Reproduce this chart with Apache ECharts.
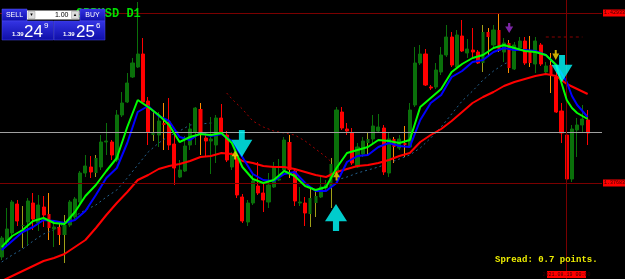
<!DOCTYPE html>
<html>
<head>
<meta charset="utf-8">
<title>GBPUSD D1</title>
<script src="https://cdn.jsdelivr.net/npm/echarts/dist/echarts.min.js"></script>
<style>
  html, body { margin: 0; padding: 0; background: #000; }
  #chart { width: 625px; height: 279px; }
</style>
</head>
<body>
<div id="chart"></div>
<script>
// daily candles: [open, close, low, high]
const ohlc = [
  [1.3569,1.3626,1.3560,1.3632],[1.3614,1.3653,1.3605,1.3716],[1.3641,1.3734,1.3635,1.3740],[1.3728,1.3677,1.3662,1.3740],
  [1.3662,1.3665,1.3596,1.3722],[1.3674,1.3737,1.3605,1.3746],[1.3731,1.3683,1.3650,1.3761],[1.3671,1.3725,1.3647,1.3755],
  [1.3719,1.3695,1.3659,1.3752],[1.3698,1.3656,1.3620,1.3761],[1.3653,1.3659,1.3599,1.3680],[1.3659,1.3635,1.3605,1.3674],
  [1.3635,1.3665,1.3551,1.3695],[1.3665,1.3734,1.3659,1.3740],[1.3689,1.3743,1.3683,1.3749],[1.3734,1.3821,1.3728,1.3827],
  [1.3821,1.3842,1.3809,1.3875],[1.3839,1.3824,1.3806,1.3872],[1.3821,1.3866,1.3809,1.3875],[1.3839,1.3914,1.3830,1.3935],
  [1.3914,1.3917,1.3875,1.3971],[1.3914,1.3875,1.3860,1.3920],[1.3860,1.3995,1.3854,1.4010],[1.3995,1.4031,1.3989,1.4064],
  [1.4034,1.4091,1.4031,1.4121],[1.4109,1.4151,1.4106,1.4166],[1.4139,1.4178,1.4136,1.4334],[1.4178,1.4034,1.4031,1.4226],
  [1.4037,1.3944,1.3905,1.4049],[1.3935,1.3944,1.3917,1.4007],[1.3935,1.3977,1.3899,1.4004],[1.3971,1.3965,1.3890,1.4031],
  [1.3974,1.3905,1.3890,1.4046],[1.3908,1.3836,1.3785,1.3935],[1.3809,1.3830,1.3806,1.3860],[1.3827,1.3902,1.3824,1.3932],
  [1.3905,1.3953,1.3890,1.3971],[1.3944,1.4016,1.3905,1.4019],[1.4013,1.3938,1.3875,1.4031],[1.3926,1.3917,1.3869,1.3944],
  [1.3917,1.3923,1.3818,1.3989],[1.3905,1.3986,1.3851,1.3995],[1.3986,1.3944,1.3935,1.4028],[1.3935,1.3860,1.3854,1.3947],
  [1.3839,1.3875,1.3830,1.3884],[1.3872,1.3755,1.3746,1.3884],[1.3749,1.3677,1.3671,1.3758],[1.3674,1.3731,1.3662,1.3740],
  [1.3731,1.3797,1.3725,1.3824],[1.3782,1.3761,1.3755,1.3854],[1.3761,1.3740,1.3704,1.3791],[1.3734,1.3785,1.3716,1.3821],
  [1.3779,1.3839,1.3776,1.3854],[1.3800,1.3803,1.3797,1.3863],[1.3830,1.3920,1.3824,1.3929],[1.3914,1.3830,1.3806,1.3935],
  [1.3827,1.3737,1.3722,1.3830],[1.3731,1.3734,1.3722,1.3779],[1.3731,1.3701,1.3662,1.3749],[1.3698,1.3746,1.3659,1.3779],
  [1.3731,1.3752,1.3689,1.3773],[1.3749,1.3779,1.3746,1.3809],[1.3776,1.3785,1.3764,1.3800],[1.3779,1.3848,1.3716,1.3866],
  [1.3821,1.4010,1.3815,1.4019],[1.4004,1.3956,1.3950,1.4019],[1.3953,1.3947,1.3935,1.3971],[1.3941,1.3851,1.3845,1.3956],
  [1.3839,1.3899,1.3836,1.3911],[1.3878,1.3917,1.3869,1.3929],[1.3911,1.3923,1.3875,1.3941],[1.3923,1.3962,1.3911,1.3995],
  [1.3947,1.3959,1.3944,1.3998],[1.3956,1.3824,1.3815,1.3965],[1.3821,1.3923,1.3809,1.3941],[1.3923,1.3899,1.3851,1.3929],
  [1.3896,1.3923,1.3890,1.3935],[1.3911,1.3905,1.3869,1.3962],[1.3899,1.4010,1.3896,1.4031],[1.4025,1.4151,1.4019,1.4199],
  [1.4151,1.4178,1.4145,1.4205],[1.4178,1.4085,1.4082,1.4193],[1.4079,1.4076,1.4070,1.4085],[1.4079,1.4130,1.4073,1.4151],
  [1.4124,1.4175,1.4115,1.4199],[1.4175,1.4229,1.4169,1.4265],[1.4229,1.4145,1.4139,1.4244],[1.4139,1.4235,1.4136,1.4250],
  [1.4232,1.4187,1.4184,1.4280],[1.4181,1.4193,1.4166,1.4223],[1.4190,1.4184,1.4166,1.4256],[1.4184,1.4151,1.4148,1.4190],
  [1.4151,1.4244,1.4124,1.4265],[1.4244,1.4229,1.4175,1.4256],[1.4205,1.4250,1.4199,1.4265],[1.4250,1.4187,1.4184,1.4298],
  [1.4184,1.4211,1.4154,1.4226],[1.4211,1.4136,1.4121,1.4220],[1.4133,1.4205,1.4130,1.4214],[1.4196,1.4217,1.4193,1.4229],
  [1.4217,1.4151,1.4145,1.4229],[1.4190,1.4151,1.4139,1.4232],[1.4148,1.4217,1.4121,1.4229],[1.4205,1.4148,1.4142,1.4211],
  [1.4124,1.4142,1.4115,1.4154],[1.4145,1.4115,1.4061,1.4181],[1.4109,1.4004,1.4001,1.4124],[1.4007,1.3941,1.3911,1.4031],
  [1.3935,1.3803,1.3797,1.3944],[1.3803,1.3953,1.3794,1.3965],[1.3950,1.3965,1.3869,1.3986],[1.3965,1.3983,1.3944,1.4025],
  [1.3980,1.3941,1.3905,1.4010]
];
// bars whose shadow is drawn in the bar-up / bar-down colour
const tintedWicks = [4, 9, 11, 12, 18, 29, 31, 38, 55, 59, 60, 63, 70, 75, 77, 92, 93, 95, 97, 101, 105];

// moving averages: [bar index, price]
const maFast = [[0,1.3599],[2,1.3632],[4,1.3650],[6,1.3677],[8,1.3686],[10,1.3671],[12,1.3668],[14,1.3704],[16,1.3752],
  [18,1.3785],[20,1.3827],[22,1.3866],[24,1.3959],[26,1.4040],[28,1.4019],[30,1.3995],[32,1.3965],[34,1.3914],[36,1.3929],
  [38,1.3938],[40,1.3935],[42,1.3941],[44,1.3911],[46,1.3839],[48,1.3803],[50,1.3791],[52,1.3800],[54,1.3827],[56,1.3812],
  [58,1.3782],[60,1.3770],[62,1.3779],[64,1.3836],[66,1.3881],[68,1.3890],[70,1.3899],[72,1.3920],[74,1.3917],[76,1.3911],
  [78,1.3920],[80,1.4019],[82,1.4046],[84,1.4073],[86,1.4124],[88,1.4148],[90,1.4166],[92,1.4175],[94,1.4196],[96,1.4205],
  [98,1.4196],[100,1.4187],[102,1.4184],[104,1.4175],[106,1.4145],[107,1.4091],[108,1.4040],[109,1.4016],[110,1.4001],[112,1.3983]];
const maMid = [[0,1.3590],[2,1.3617],[4,1.3644],[6,1.3659],[8,1.3680],[10,1.3677],[12,1.3671],[14,1.3680],[16,1.3707],
  [18,1.3755],[20,1.3806],[22,1.3836],[24,1.3911],[26,1.4004],[28,1.4022],[30,1.3992],[32,1.3977],[34,1.3929],[36,1.3920],
  [38,1.3941],[40,1.3932],[42,1.3938],[44,1.3917],[46,1.3869],[48,1.3818],[50,1.3800],[52,1.3797],[54,1.3818],[56,1.3824],
  [58,1.3791],[60,1.3767],[62,1.3767],[64,1.3791],[66,1.3854],[68,1.3872],[70,1.3875],[72,1.3899],[74,1.3911],[76,1.3902],
  [78,1.3899],[80,1.3980],[82,1.4031],[84,1.4055],[86,1.4109],[88,1.4127],[90,1.4154],[92,1.4160],[94,1.4184],[96,1.4196],
  [98,1.4190],[100,1.4190],[102,1.4187],[104,1.4175],[106,1.4145],[108,1.4094],[109,1.4052],[110,1.4025],[112,1.3989]];
const maSlow = [[0,1.3497],[2,1.3512],[4,1.3527],[6,1.3542],[8,1.3557],[10,1.3566],[12,1.3578],[14,1.3599],[16,1.3620],
  [18,1.3656],[20,1.3695],[22,1.3731],[24,1.3764],[26,1.3800],[28,1.3815],[30,1.3833],[32,1.3842],[34,1.3848],[36,1.3857],
  [38,1.3869],[40,1.3872],[42,1.3881],[44,1.3878],[46,1.3857],[48,1.3851],[50,1.3842],[52,1.3839],[54,1.3839],[56,1.3833],
  [58,1.3824],[60,1.3815],[62,1.3809],[64,1.3824],[66,1.3833],[68,1.3842],[70,1.3845],[72,1.3851],[74,1.3860],[76,1.3872],
  [78,1.3881],[80,1.3914],[82,1.3935],[84,1.3953],[86,1.3977],[88,1.4004],[90,1.4031],[92,1.4049],[94,1.4064],[96,1.4082],
  [98,1.4094],[100,1.4103],[102,1.4112],[104,1.4118],[106,1.4112],[108,1.4088],[110,1.4073],[112,1.4058]];
// long dotted average, drawn in two pieces
const maDotA = [[0,1.3554],[2,1.3575],[4,1.3593],[6,1.3617],[8,1.3638],[10,1.3650],[12,1.3671],[14,1.3692],[16,1.3710],
  [18,1.3725],[20,1.3749],[22,1.3770],[24,1.3806],[26,1.3845],[28,1.3884],[30,1.3911],[32,1.3932],[34,1.3947],[36,1.3965],
  [38,1.3968],[40,1.3971],[41,1.3971]];
const maDotB = [[64,1.3800],[66,1.3809],[68,1.3821],[70,1.3830],[72,1.3839],[74,1.3851],[76,1.3863],[78,1.3875],[80,1.3896],
  [82,1.3926],[84,1.3959],[86,1.3998],[88,1.4037],[90,1.4067],[92,1.4100],[94,1.4127],[96,1.4148],[97,1.4154]];
// dark red dotted trail
const trailRed = [[43,1.4061],[44,1.4043],[46,1.4013],[48,1.3977],[50,1.3959],[52,1.3947],[54,1.3941],[56,1.3935],
  [58,1.3917],[60,1.3893],[62,1.3869],[63,1.3854]];
const pendingLevel = [[104,1.4229],[111,1.4229]];

// signal arrows: [bar index, price]
const bigDown = [[45.9,1.3869],[107.1,1.4094]];
const bigUp = [[63.9,1.3728]];
const smallUp = [[44.6,1.3875],[64,1.3812]];
const smallDown = [[105.9,1.4175]];
const purpleDown = [[97,1.4256]];

// horizontal / vertical lines
const levelGray = 1.3944;
const levelTop = 1.4301;
const levelLow = 1.3791;
const priceTags = ['1.42933', '1.37683'];
const crossBar = 108;
const crossTime = '2021.08.19 00:00';

const titleText = 'GBPUSD D1';
const spreadText = 'Spread: 0.7 points.';

const chart = echarts.init(document.getElementById('chart'));

// tinted bars: body without outline, the shadow comes from the tint series below
const candleData = ohlc.map((v, i) => {
  const item = { value: [i, v[0], v[1], v[2], v[3]] };
  if (tintedWicks.includes(i)) {
    item.itemStyle = { borderColor: 'rgba(0,0,0,0)', borderColor0: 'rgba(0,0,0,0)' };
  }
  return item;
});
const tintData = tintedWicks.map(i => [i, ohlc[i][0], ohlc[i][1], ohlc[i][2], ohlc[i][3]]);

const arrowDownPath = 'path://M3.6,0 L6.4,0 L6.4,3.6 L10,3.6 L5,10 L0,3.6 L3.6,3.6 Z';
const arrowUpPath = 'path://M5,0 L10,6.4 L6.4,6.4 L6.4,10 L3.6,10 L3.6,6.4 L0,6.4 Z';
const blueFill = () => new echarts.graphic.LinearGradient(0, 0, 0, 1, [
  { offset: 0, color: '#3434e4' }, { offset: 1, color: '#0e0ea8' }
]);

function lineSeries(data, color, width, type, z) {
  return {
    type: 'line', data: data, symbol: 'none', silent: true, z: z,
    lineStyle: { color: color, width: width, type: type }
  };
}

function tagLine(value, text) {
  return {
    yAxis: value,
    lineStyle: { color: '#7a0000', width: 1, type: 'solid' },
    label: {
      show: true, position: 'end', distance: 1, formatter: text,
      backgroundColor: '#ff0000', color: '#3a0000', fontSize: 5,
      fontFamily: 'Liberation Mono', padding: [1, 1]
    }
  };
}

chart.setOption({
  backgroundColor: '#000000',
  animation: false,
  grid: { left: 0, right: 23, top: 0, bottom: 0 },
  xAxis: { type: 'value', min: -0.325, max: 114.74, show: false, splitLine: { show: false } },
  yAxis: { type: 'value', min: 1.3503, max: 1.4340, show: false, splitLine: { show: false } },
  series: [
    {
      type: 'candlestick',
      data: tintData,
      encode: { x: 0, y: [1, 2, 3, 4] },
      barWidth: 1,
      silent: true,
      z: 1,
      itemStyle: { color: '#a0a018', color0: '#ff8c00', borderColor: '#a0a018', borderColor0: '#ff8c00', borderWidth: 1 }
    },
    {
      type: 'candlestick',
      data: candleData,
      encode: { x: 0, y: [1, 2, 3, 4] },
      barWidth: 3.6,
      silent: true,
      z: 2,
      itemStyle: {
        color: '#0a700a', color0: '#ff0000',
        borderColor: '#0a700a', borderColor0: '#ff0000', borderWidth: 1
      },
      markLine: {
        silent: true,
        precision: 5,
        symbol: ['none', 'none'],
        data: [
          { yAxis: levelGray, lineStyle: { color: '#a0a0a0', width: 1, type: 'solid' }, label: { show: false } },
          tagLine(levelTop, priceTags[0]),
          tagLine(levelLow, priceTags[1]),
          { xAxis: crossBar, lineStyle: { color: '#7a0000', width: 1, type: 'solid' }, label: { show: false } }
        ]
      }
    },
    lineSeries(pendingLevel, '#8a0000', 1, [3, 3], 2),
    lineSeries(trailRed, '#a00000', 1, [2, 3], 2),
    lineSeries(maDotA, '#24618f', 1, [2, 3], 2),
    lineSeries(maDotB, '#24618f', 1, [2, 3], 2),
    lineSeries(maSlow, '#ff0000', 2, 'solid', 3),
    lineSeries(maMid, '#0000ff', 2, 'solid', 4),
    lineSeries(maFast, '#00ff00', 2, 'solid', 5),
    { type: 'scatter', data: smallUp, symbol: arrowUpPath, symbolSize: [7, 9], itemStyle: { color: '#ffd800' }, z: 8, silent: true },
    { type: 'scatter', data: smallDown, symbol: arrowDownPath, symbolSize: [7, 10], itemStyle: { color: '#ffd800' }, z: 8, silent: true },
    { type: 'scatter', data: purpleDown, symbol: arrowDownPath, symbolSize: [8, 10], itemStyle: { color: '#9b30d0' }, z: 8, silent: true },
    { type: 'scatter', data: bigDown, symbol: arrowDownPath, symbolSize: [21, 27], symbolOffset: [0, '-50%'], itemStyle: { color: '#00ffff' }, z: 9, silent: true },
    { type: 'scatter', data: bigUp, symbol: arrowUpPath, symbolSize: [22, 27], symbolOffset: [0, '50%'], itemStyle: { color: '#00ffff' }, z: 9, silent: true }
  ],
  graphic: [
    { type: 'text', x: 76, y: 14, z: 10, style: { text: titleText, fill: '#00e000', font: 'bold 12px "Liberation Mono"', verticalAlign: 'middle' } },
    { type: 'text', x: 495, y: 260, z: 10, style: { text: spreadText, fill: '#eeee00', font: 'bold 9px "Liberation Mono"', verticalAlign: 'middle' } },
    { type: 'rect', z: 10, shape: { x: 547, y: 271, width: 39, height: 7 }, style: { fill: '#ff0000' } },
    { type: 'text', x: 566.5, y: 274.5, z: 11, style: { text: crossTime, fill: '#3a0000', font: '5px "Liberation Mono"', align: 'center', verticalAlign: 'middle' } },
    // one-click trade panel
    { type: 'rect', z: 20, shape: { x: 2, y: 9, width: 25, height: 12 }, style: { fill: blueFill(), stroke: '#5050f0', lineWidth: 0.5 } },
    { type: 'text', x: 14.5, y: 15.5, z: 21, style: { text: 'SELL', fill: '#ffffff', font: '7px "Liberation Sans"', align: 'center', verticalAlign: 'middle' } },
    { type: 'rect', z: 20, shape: { x: 27, y: 10.5, width: 52.5, height: 9 }, style: { fill: '#ffffff' } },
    { type: 'rect', z: 21, shape: { x: 28, y: 11.5, width: 7, height: 7 }, style: { fill: '#dcdcdc', stroke: '#9a9a9a', lineWidth: 0.5 } },
    { type: 'rect', z: 21, shape: { x: 71.5, y: 11.5, width: 7, height: 7 }, style: { fill: '#dcdcdc', stroke: '#9a9a9a', lineWidth: 0.5 } },
    { type: 'text', x: 31.5, y: 15, z: 22, style: { text: '▾', fill: '#000000', font: '5px "DejaVu Sans"', align: 'center', verticalAlign: 'middle' } },
    { type: 'text', x: 75, y: 15, z: 22, style: { text: '▴', fill: '#000000', font: '5px "DejaVu Sans"', align: 'center', verticalAlign: 'middle' } },
    { type: 'text', x: 68.5, y: 15.5, z: 22, style: { text: '1.00', fill: '#000000', font: '7px "Liberation Sans"', align: 'right', verticalAlign: 'middle' } },
    { type: 'rect', z: 20, shape: { x: 80, y: 9, width: 25, height: 12 }, style: { fill: blueFill(), stroke: '#5050f0', lineWidth: 0.5 } },
    { type: 'text', x: 92.5, y: 15.5, z: 21, style: { text: 'BUY', fill: '#ffffff', font: '7px "Liberation Sans"', align: 'center', verticalAlign: 'middle' } },
    { type: 'rect', z: 20, shape: { x: 2, y: 21, width: 51.5, height: 19 }, style: { fill: blueFill(), stroke: '#4a4ae8', lineWidth: 0.5 } },
    { type: 'rect', z: 20, shape: { x: 54, y: 21, width: 51, height: 19 }, style: { fill: blueFill(), stroke: '#4a4ae8', lineWidth: 0.5 } },
    { type: 'text', x: 12, y: 34, z: 21, style: { text: '1.39', fill: '#ffffff', font: 'bold 6px "Liberation Sans"', verticalAlign: 'middle' } },
    { type: 'text', x: 24, y: 32, z: 21, style: { text: '24', fill: '#ffffff', font: '17px "Liberation Sans"', verticalAlign: 'middle' } },
    { type: 'text', x: 44, y: 26, z: 21, style: { text: '9', fill: '#ffffff', font: '8px "Liberation Sans"', verticalAlign: 'middle' } },
    { type: 'text', x: 63, y: 34, z: 21, style: { text: '1.39', fill: '#ffffff', font: 'bold 6px "Liberation Sans"', verticalAlign: 'middle' } },
    { type: 'text', x: 76, y: 32, z: 21, style: { text: '25', fill: '#ffffff', font: '17px "Liberation Sans"', verticalAlign: 'middle' } },
    { type: 'text', x: 96, y: 26, z: 21, style: { text: '6', fill: '#ffffff', font: '8px "Liberation Sans"', verticalAlign: 'middle' } }
  ]
});
</script>
</body>
</html>
